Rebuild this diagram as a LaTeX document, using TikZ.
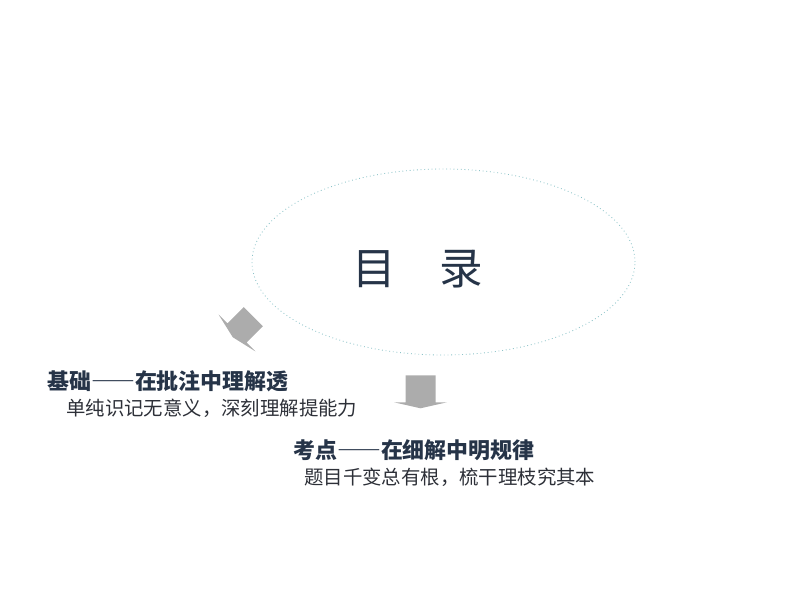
\documentclass[tikz,border=0pt]{standalone}
\usepackage{fontspec}
\setmainfont{Noto Sans CJK SC}
\usepackage{tikz}

\definecolor{navy}{RGB}{38,52,72}
\definecolor{subgray}{RGB}{45,48,56}
\definecolor{ringcol}{RGB}{140,195,200}
\definecolor{arrowgray}{RGB}{172,172,172}

\begin{document}
\begin{tikzpicture}[x=0.025cm,y=0.025cm]
\tikzstyle{ring}=[draw=ringcol,dotted,line width=0.6pt]
\tikzstyle{title}=[text=navy,font=\fontsize{31}{36}\selectfont,inner sep=0]
\tikzstyle{heading}=[text=navy,font=\bfseries\fontsize{15.6}{18}\selectfont,anchor=west,inner sep=0]
\tikzstyle{subline}=[text=subgray,font=\fontsize{13.8}{16}\selectfont,anchor=west,inner sep=0]
\tikzstyle{blockarrow}=[fill=arrowgray]
\useasboundingbox (0,0) rectangle (794,596);
\draw[ring] (443.5,334) ellipse (191.5 and 93);
\node[title] (mulu) at (418,327) {目　录};
\node[heading] (jichu) at (47,215) {基础{\addfontfeature{RawFeature=+fwid}——}在批注中理解透};
\node[subline] (jichusub) at (66,188) {单纯识记无意义，深刻理解提能力};
\node[heading] (kaodian) at (293,146) {考点{\addfontfeature{RawFeature=+fwid}——}在细解中明规律};
\node[subline] (kaodiansub) at (304,119) {题目千变总有根，梳干理枝究其本};
\begin{scope}[shift={(237,263)},rotate=-45]
\fill[blockarrow] (-13.5,23) -- (13.5,23) -- (13.5,0) -- (26,0) -- (0,-6) -- (-26,0) -- (-13.5,0) -- cycle;
\end{scope}
\begin{scope}[shift={(420.5,193.7)}]
\fill[blockarrow] (-15,27) -- (15,27) -- (15,0) -- (26.5,0) -- (0,-6) -- (-26.5,0) -- (-15,0) -- cycle;
\end{scope}
\end{tikzpicture}
\end{document}
